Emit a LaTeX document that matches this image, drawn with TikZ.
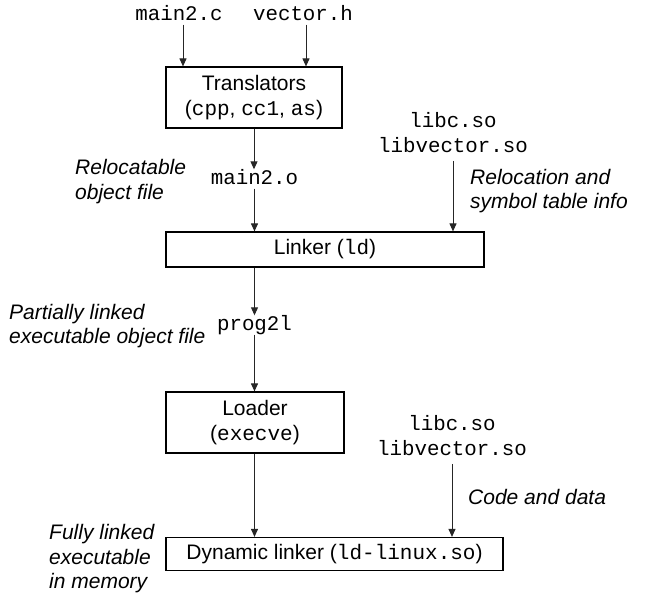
\documentclass[tikz,border=0pt]{standalone}
\usepackage{fontspec}
\setmainfont{Liberation Sans}
\setmonofont{Liberation Mono}
\usetikzlibrary{arrows.meta}
\begin{document}
\begin{tikzpicture}[x=1pt,y=-1pt,
  font=\fontsize{21}{25}\selectfont,
  box/.style={draw, line width=1.2pt, inner sep=0pt, align=center},
  tt/.style={inner sep=0pt, align=center, text height=15pt, text depth=4pt, font=\fontsize{20.8}{25}\selectfont\ttfamily},
  libs/.style={inner sep=0pt, align=center, font=\fontsize{20.8}{25}\selectfont\ttfamily},
  lbl/.style={inner sep=0pt, align=left, anchor=west, font=\fontsize{21}{24.5}\selectfont\itshape},
  arr/.style={line width=1pt, black!85, -{Triangle[length=8pt,width=7pt]}}]
\useasboundingbox (0,0) rectangle (646,598);
% nodes
\node[tt] (mc) at (179,15) {main2.c};
\node[tt] (vh) at (303,15) {vector.h};
\node[box, minimum width=176pt, minimum height=61pt] (tr) at (254,97.5) {Translators\\(\texttt{cpp}, \texttt{cc1}, \texttt{as})};
\node[tt] (mo) at (254.5,179) {main2.o};
\node[libs] (lib1) at (453,132.5) {libc.so\\libvector.so};
\node[box, minimum width=318pt, minimum height=35pt] (lk) at (325,249.5) {Linker (\texttt{ld})};
\node[tt] (pg) at (254.5,325) {prog2l};
\node[box, minimum width=178pt, minimum height=61pt] (ld) at (255,422.5) {Loader\\(\texttt{execve})};
\node[libs] (lib2) at (452,435.5) {libc.so\\libvector.so};
\node[box, minimum width=337pt, minimum height=33pt] (dl) at (334.5,554) {Dynamic linker (\texttt{ld-linux.so})};
% labels
\node[lbl] (l1) at (75,181.5) {Relocatable\\object file};
\node[lbl] (l2) at (470,191) {Relocation and\\symbol table info};
\node[lbl] (l3) at (9,326) {Partially linked\\executable object file};
\node[lbl] (l4) at (468,497) {Code and data};
\node[lbl] (l5) at (49,559) {Fully linked\\executable\\in memory};
% connectors
\draw[arr] ([xshift=4pt]mc.south) -- ([xshift=4pt]mc.south |- tr.north);
\draw[arr] ([xshift=3pt]vh.south) -- ([xshift=3pt]vh.south |- tr.north);
\draw[arr] (tr.south) -- (tr.south |- mo.north);
\draw[arr] (mo.south) -- (mo.south |- lk.north);
\draw[arr, shorten <=8pt] (lib1.south) -- (lib1.south |- lk.north);
\draw[arr] (mo |- lk.south) -- (pg.north);
\draw[arr] (pg.south) -- (pg.south |- ld.north);
\draw[arr] (pg |- ld.south) -- (pg |- dl.north);
\draw[arr, shorten <=8pt] (lib2.south) -- (lib2.south |- dl.north);
\end{tikzpicture}
\end{document}
